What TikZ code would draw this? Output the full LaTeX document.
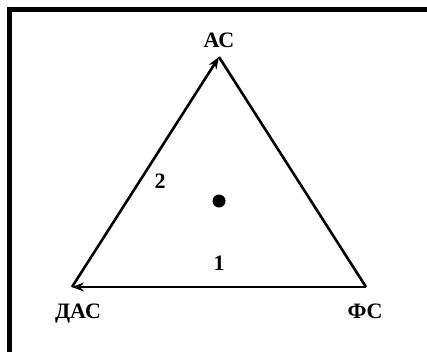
\documentclass[tikz,border=0pt]{standalone}
\usepackage{fontspec}
\setmainfont{Liberation Serif}
\usetikzlibrary{arrows.meta}
\begin{document}
\begin{tikzpicture}[x=1pt,y=1pt,
  edge/.style={line width=2.6pt},
  arr/.style={edge,-{Stealth[length=12pt,width=9pt]}},
  lbl/.style={font=\fontsize{22}{25}\selectfont\bfseries, inner sep=0pt, anchor=base},
  frame/.style={line width=5pt}]
\useasboundingbox (0,0) rectangle (427,351);
\clip (0,0) rectangle (427,351);
\draw[frame] (9.5,-20) rectangle (429.5,341.5);
\coordinate (A) at (219,294);
\coordinate (D) at (72,64);
\coordinate (F) at (366,64);
\draw[arr] (D) -- (A);
\draw[arr] (F) -- (D);
\draw[edge] (A) -- (F);
\node[lbl] (tA) at (219,303) {АС};
\node[lbl] (tD) at (78,33) {ДАС};
\node[lbl] (tF) at (365,33) {ФС};
\node[lbl] (n2) at (160,163) {2};
\node[lbl] (n1) at (219,81) {1};
\fill (219,150) circle (6.5);
\end{tikzpicture}
\end{document}
